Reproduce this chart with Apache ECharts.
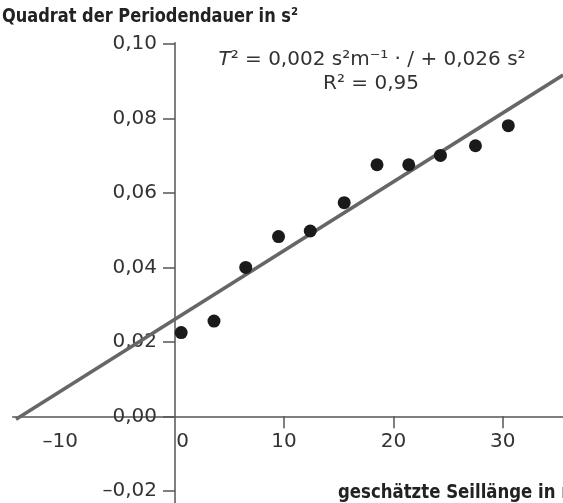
<!DOCTYPE html>
<html>
<head>
<meta charset="utf-8">
<style>
  html, body { margin: 0; padding: 0; background: #fff; }
  #chart { width: 563px; height: 503px; }
</style>
<script src="https://cdn.jsdelivr.net/npm/echarts@6/dist/echarts.min.js"></script>
</head>
<body>
<div id="chart"></div>
<script>
// Messwerte: geschätzte Seillänge (m) und Quadrat der Periodendauer (s²)
const seillaenge = [0.6, 3.6, 6.5, 9.5, 12.4, 15.5, 18.5, 21.4, 24.3, 27.5, 30.5];
const periodeQuadrat = [0.0225, 0.0256, 0.0400, 0.0483, 0.0498, 0.0574, 0.0676, 0.0676, 0.0701, 0.0727, 0.0781];
// Ausgleichsgerade (Endpunkte)
const geradeX = [-14.5, 35.5];
const geradeY = [-0.0008, 0.0917];
// Achsenbeschriftung
const xTicks = [-10, 0, 10, 20, 30];
const xTickMarks = [10, 20, 30];
const yTicks = [-0.02, 0, 0.02, 0.04, 0.06, 0.08, 0.10];

const lightFont = 'DejaVu Sans';

// Gitter so gelegt, dass die Achsen im Nullpunkt kreuzen (y-Achse bei x=175, x-Achse bei y=416)
const gridLeft = 12.7, gridTop = 42.7;
const achseX = 175, achseY = 416.3;

const myChart = echarts.init(document.getElementById('chart'));

myChart.setOption({
  animation: false,
  grid: { left: gridLeft, right: 0, top: gridTop, bottom: 0, containLabel: false, outerBoundsMode: 'none' },
  xAxis: {
    type: 'value',
    min: -14.8,
    max: 35.5,
    offset: -(503 - achseY),
    splitLine: { show: false },
    axisLine: { onZero: false, lineStyle: { color: '#555', width: 1.5 } },
    axisTick: { customValues: xTickMarks, length: 12, lineStyle: { color: '#555', width: 1.5 } },
    axisLabel: {
      customValues: xTicks,
      margin: 15,
      fontFamily: lightFont,
      fontSize: 20,
      color: '#333',
      formatter: v => (v === 0 ? '{z|0}' : v < 0 ? '{n|' + String(v).replace('-', '–') + '}' : String(v)),
      rich: {
        z: { fontFamily: lightFont, fontSize: 20, color: '#333', padding: [0, 0, 0, 16] },
        n: { fontFamily: lightFont, fontSize: 20, color: '#333', padding: [0, 10, 0, 0] }
      }
    }
  },
  yAxis: {
    type: 'value',
    min: -0.0233,
    max: 0.1004,
    offset: -(achseX - gridLeft),
    splitLine: { show: false },
    axisLine: { onZero: false, lineStyle: { color: '#555', width: 1.5 } },
    axisTick: { customValues: yTicks, length: 12, lineStyle: { color: '#555', width: 1.5 } },
    axisLabel: {
      customValues: yTicks,
      margin: 18,
      fontFamily: lightFont,
      fontSize: 20,
      color: '#333',
      formatter: v => v.toFixed(2).replace('.', ',').replace('-', '–')
    }
  },
  graphic: [
    {
      type: 'text',
      x: 2,
      y: 17,
      scaleX: 0.9,
      style: {
        text: 'Quadrat der Periodendauer in s²',
        verticalAlign: 'middle',
        font: 'bold 20px "DejaVu Sans Condensed", sans-serif',
        fill: '#222'
      }
    },
    {
      type: 'text',
      x: 372,
      y: 60,
      style: {
        text: '{i|T}² = 0,002 s²m⁻¹ · / + 0,026 s²',
        align: 'center',
        verticalAlign: 'middle',
        font: '20px "DejaVu Sans"',
        fill: '#333',
        rich: { i: { fontStyle: 'italic', fontFamily: lightFont, fontSize: 20, color: '#333' } }
      }
    },
    {
      type: 'text',
      x: 371,
      y: 84,
      style: {
        text: 'R² = 0,95',
        align: 'center',
        verticalAlign: 'middle',
        font: '20px "DejaVu Sans"',
        fill: '#333'
      }
    },
    {
      type: 'text',
      x: 338,
      y: 493,
      scaleX: 0.92,
      style: {
        text: 'geschätzte Seillänge in m',
        verticalAlign: 'middle',
        font: 'bold 20px "DejaVu Sans Condensed", sans-serif',
        fill: '#222'
      }
    }
  ],
  series: [
    {
      name: 'Ausgleichsgerade',
      type: 'line',
      data: geradeX.map((x, i) => [x, geradeY[i]]),
      showSymbol: false,
      clip: false,
      lineStyle: { color: '#666', width: 3.5 },
      z: 2
    },
    {
      name: 'Messwerte',
      type: 'scatter',
      data: seillaenge.map((x, i) => [x, periodeQuadrat[i]]),
      symbolSize: 13,
      itemStyle: { color: '#1a1a1a', opacity: 1 },
      z: 3
    }
  ]
});
</script>
</body>
</html>
